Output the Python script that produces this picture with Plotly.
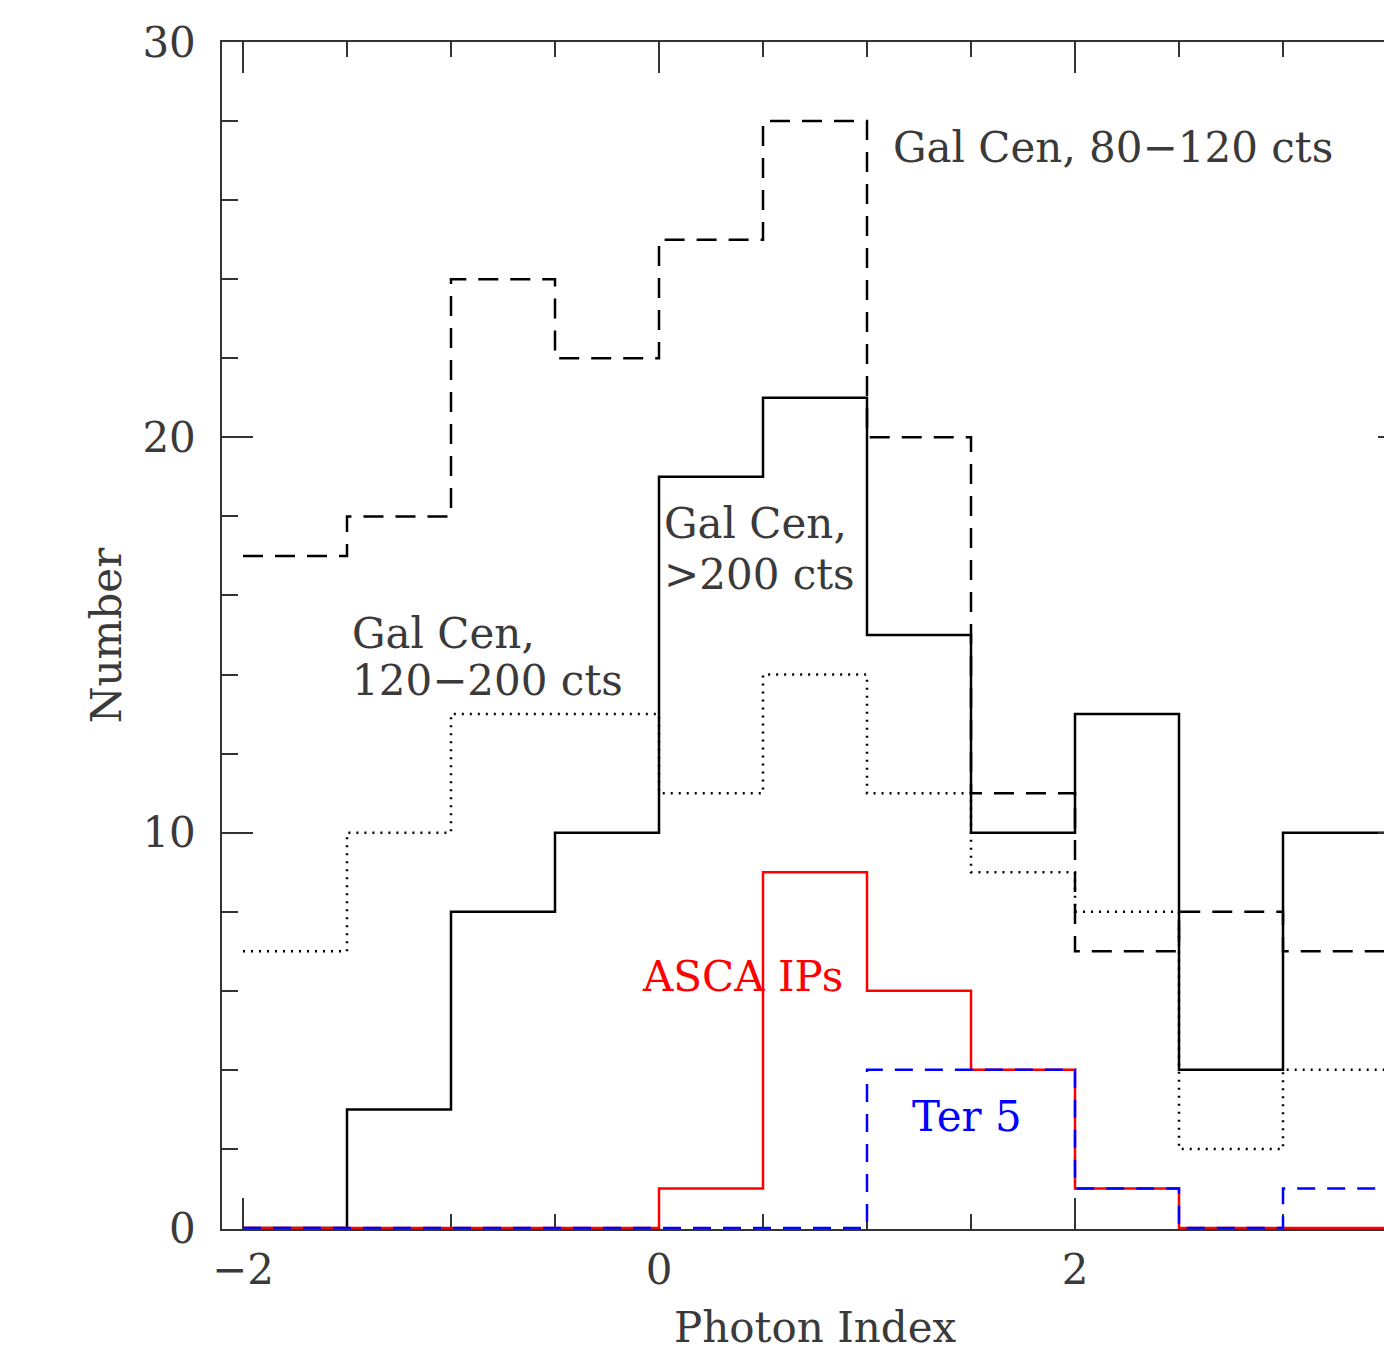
import plotly.graph_objects as go

# bin edges (photon index) and histogram counts per bin
bin_edges = [-2.0, -1.5, -1.0, -0.5, 0.0, 0.5, 1.0, 1.5, 2.0, 2.5, 3.0, 3.5]
gc_80_120 = [17, 18, 24, 22, 25, 28, 20, 11, 7, 8, 7]
gc_gt200 = [0, 3, 8, 10, 19, 21, 15, 10, 13, 4, 10]
gc_120_200 = [7, 10, 13, 13, 11, 14, 11, 9, 8, 2, 4]
asca_ips = [0, 0, 0, 0, 1, 9, 6, 4, 1, 0, 0]
ter5 = [0, 0, 0, 0, 0, 0, 4, 4, 1, 0, 1]

x_tick_vals = [-2, 0, 2]
x_tick_text = ["\u22122", "0", "2"]
y_tick_vals = [0, 10, 20, 30]
y_tick_text = ["0", "10", "20", "30"]

FONT = "DejaVu Serif"
FS = 42
TXT = "#3a3a3a"


def steps(vals):
    return bin_edges, list(vals) + [vals[-1]]


fig = go.Figure()

series = [
    (gc_gt200, dict(color="black", width=2.5, dash="solid")),
    (gc_80_120, dict(color="black", width=2.5, dash="20px,12px")),
    (gc_120_200, dict(color="black", width=2.5, dash="2px,6px")),
    (asca_ips, dict(color="#ff0000", width=2.5, dash="solid")),
    (ter5, dict(color="#0000ff", width=2.5, dash="18px,12px")),
]
for vals, ln in series:
    xs, ys = steps(vals)
    fig.add_trace(go.Scatter(x=xs, y=ys, mode="lines", line_shape="hv",
                             line=ln, showlegend=False, hoverinfo="skip"))

# empty trace to realise right-hand axis ticks
fig.add_trace(go.Scatter(x=[], y=[], yaxis="y2", showlegend=False))

annots = [
    ("Gal Cen, 80\u2212120 cts", 1.115, 27.32, TXT),
    ("Gal Cen,", 0.014, 17.83, TXT),
    (">200 cts", 0.014, 16.52, TXT),
    ("Gal Cen,", -1.486, 15.03, TXT),
    ("120\u2212200 cts", -1.486, 13.86, TXT),
    ("ASCA IPs", -0.091, 6.35, "#ff0000"),
    ("Ter 5", 1.207, 2.83, "#0000ff"),
]
for t, x, y, c in annots:
    fig.add_annotation(text=t, x=x, y=y, xref="x", yref="y", xanchor="left",
                       yanchor="middle", showarrow=False,
                       font=dict(family=FONT, size=FS, color=c))

x_lo = -2.0 - 21 / 208
x_hi = x_lo + 1162 / 208

TOP, BOT = 42, 124
px_per_unit = 1186 / 30
plot_h = 1353 - TOP - BOT
y_hi = 30
y_lo = y_hi - plot_h / px_per_unit

# x-axis title, centred on the full (cropped) frame
fig.add_annotation(text="Photon Index", x=0.75, xref="x",
                   y=-(1327 - (TOP + plot_h)) / plot_h, yref="paper",
                   showarrow=False, xanchor="center", yanchor="middle",
                   font=dict(family=FONT, size=FS, color=TXT))

fig.update_layout(
    width=1384, height=1353,
    margin=dict(l=222, r=0, t=TOP, b=BOT),
    paper_bgcolor="white", plot_bgcolor="white",
    font=dict(family=FONT, size=FS, color=TXT),
    xaxis=dict(
        range=[x_lo, x_hi], showgrid=False, zeroline=False, layer="below traces",
        showline=True, linecolor="#333", linewidth=1.5, mirror="ticks",
        tickmode="array", tickvals=x_tick_vals, ticktext=x_tick_text,
        ticks="inside", ticklen=31, tickwidth=1.5, tickcolor="#333",
        minor=dict(tickmode="linear", tick0=-2, dtick=0.5, ticks="inside",
                   ticklen=15, tickwidth=1.5, tickcolor="#333"),
        ticklabelstandoff=3,
    ),
    yaxis=dict(
        range=[y_lo, y_hi], showgrid=False, zeroline=False, layer="below traces",
        showline=True, linecolor="#333", linewidth=1.5, mirror=False,
        tickmode="array", tickvals=y_tick_vals, ticktext=y_tick_text,
        ticks="inside", ticklen=31, tickwidth=1.5, tickcolor="#333",
        minor=dict(tickmode="linear", tick0=0, dtick=2, ticks="inside",
                   ticklen=16, tickwidth=1.5, tickcolor="#333"),
        ticklabelstandoff=16,
        title=dict(text="Number", standoff=8,
                   font=dict(family=FONT, size=FS, color=TXT)),
    ),
    yaxis2=dict(
        range=[y_lo, y_hi], overlaying="y", side="right", showgrid=False,
        zeroline=False, showline=False, showticklabels=False,
        tickmode="array", tickvals=[10, 20], ticks="inside", ticklen=6,
        tickwidth=1.5, tickcolor="#333",
    ),
)

fig.write_html("out.html")
